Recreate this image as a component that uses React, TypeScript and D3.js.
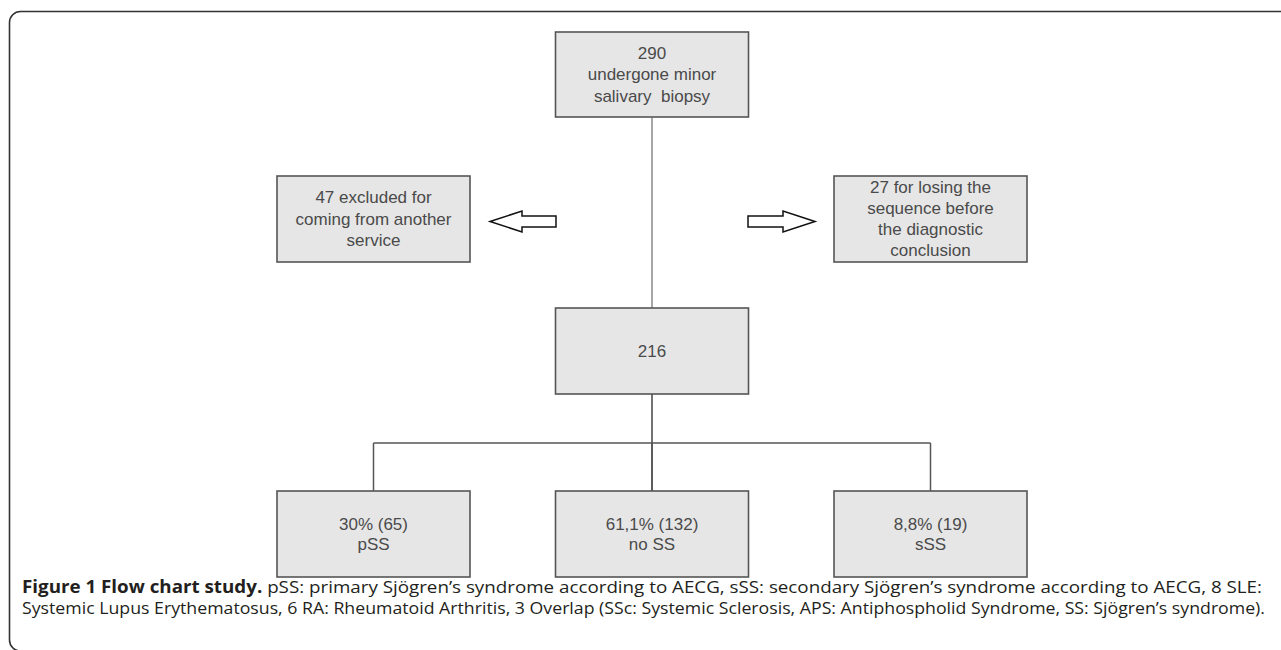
import React from "react";
import * as d3 from "d3";

// flow chart content
const columns = ["left", "center", "right"];
const levels = ["screened", "excluded", "included", "outcome"];
const screenedLines = ["290", "undergone minor", "salivary  biopsy"];
const excludedOtherService = ["47 excluded for", "coming from another", "service"];
const excludedLostSequence = ["27 for losing the", "sequence before", "the diagnostic", "conclusion"];
const includedLines = ["216"];
const outcomePct = ["30%", "61,1%", "8,8%"];
const outcomeCount = [65, 132, 19];
const outcomeGroup = ["pSS", "no SS", "sSS"];
const captionBold = "Figure 1 Flow chart study.";
const captionLine1 =
  " pSS: primary Sjögren’s syndrome according to AECG, sSS: secondary Sjögren’s syndrome according to AECG, 8 SLE:";
const captionLine2 =
  "Systemic Lupus Erythematosus, 6 RA: Rheumatoid Arthritis, 3 Overlap (SSc: Systemic Sclerosis, APS: Antiphospholid Syndrome, SS: Sjögren’s syndrome).";

const width = 1281;
const height = 650;
const boxW = 193;
const boxH = 86;

const x = d3.scalePoint<string>().domain(columns).range([373.5, 930.5]);
const y = d3.scaleOrdinal<string, number>().domain(levels).range([74.5, 219, 351, 534]);

type Node = { col: string; level: string; lines: string[]; lh: number };

const nodes: Node[] = [
  { col: "center", level: "screened", lines: screenedLines, lh: 21.5 },
  { col: "left", level: "excluded", lines: excludedOtherService, lh: 21.5 },
  { col: "right", level: "excluded", lines: excludedLostSequence, lh: 21 },
  { col: "center", level: "included", lines: includedLines, lh: 21 },
  ...columns.map((c, i) => ({
    col: c,
    level: "outcome",
    lines: [`${outcomePct[i]} (${outcomeCount[i]})`, outcomeGroup[i]],
    lh: 20,
  })),
];

const arrowPath = (tip: number, tail: number, cy: number) => {
  const dir = tail > tip ? 1 : -1;
  const base = tip + dir * 32;
  const pts: [number, number][] = [
    [tip, cy],
    [base, cy - 10.5],
    [base, cy - 5.5],
    [tail, cy - 5.5],
    [tail, cy + 5.5],
    [base, cy + 5.5],
    [base, cy + 10.5],
  ];
  return d3.line()(pts) + "Z";
};

const framePath = () => {
  const p = d3.path();
  const r = 11;
  p.moveTo(width, 11.5);
  p.lineTo(9.5 + r, 11.5);
  p.arcTo(9.5, 11.5, 9.5, 11.5 + r, r);
  p.lineTo(9.5, 640);
  p.arcTo(9.5, 651, 9.5 + r, 651, r);
  return p.toString();
};

export default function App() {
  const cx = x("center")!;
  const topBottom = y("screened") + boxH / 2;
  const midTop = y("included") - boxH / 2;
  const midBottom = y("included") + boxH / 2;
  const outTop = y("outcome") - boxH / 2;
  const branchY = 443;
  const arrowY = y("excluded") + 2.5;
  const leftTip = x("left")! + boxW / 2 + 20;
  const rightTip = x("right")! - boxW / 2 - 19;

  return (
    <svg
      width={width}
      height={height}
      style={{ position: "absolute", left: 0, top: 0, background: "#fff" }}
    >
      <path d={framePath()} fill="none" stroke="#333" strokeWidth={1.6} />

      {/* connectors */}
      <line x1={cx} x2={cx} y1={topBottom} y2={midTop} stroke="#8a8a8a" strokeWidth={1.5} />
      <line x1={cx} x2={cx} y1={midBottom} y2={outTop} stroke="#444" strokeWidth={1.5} />
      <line x1={x("left")} x2={x("right")} y1={branchY} y2={branchY} stroke="#555" strokeWidth={1.5} />
      {columns.map((c) => (
        <line key={c} x1={x(c)} x2={x(c)} y1={branchY} y2={outTop} stroke="#555" strokeWidth={1.5} />
      ))}

      {/* arrows */}
      <path d={arrowPath(leftTip, leftTip + 66, arrowY)} fill="#fff" stroke="#111" strokeWidth={1.5} />
      <path d={arrowPath(rightTip, rightTip - 67, arrowY)} fill="#fff" stroke="#111" strokeWidth={1.5} />

      {/* boxes */}
      {nodes.map((n, i) => {
        const bx = x(n.col)!;
        const by = y(n.level);
        const h = n.level === "screened" ? 85 : boxH;
        const first = by - ((n.lines.length - 1) * n.lh) / 2;
        return (
          <g key={i}>
            <rect
              x={bx - boxW / 2}
              y={by - h / 2}
              width={boxW}
              height={h}
              fill="#e6e6e6"
              stroke="#555"
              strokeWidth={1.6}
            />
            <text
              textAnchor="middle"
              fontFamily="'Liberation Sans', Arial, sans-serif"
              fontSize={17}
              fill="#4a4a4a"
              style={{ whiteSpace: "pre" }}
            >
              {n.lines.map((l, j) => (
                <tspan key={j} x={bx} y={first + j * n.lh} dy="0.35em">
                  {l}
                </tspan>
              ))}
            </text>
          </g>
        );
      })}

      {/* caption */}
      <g fontFamily="'Open Sans', 'Noto Sans', sans-serif" fontSize={17} fill="#231f20">
        <text x={22} y={593} textLength={1240} lengthAdjust="spacingAndGlyphs">
          <tspan fontWeight="bold">{captionBold}</tspan>
          <tspan>{captionLine1}</tspan>
        </text>
        <text x={22} y={614} textLength={1243} lengthAdjust="spacingAndGlyphs">
          {captionLine2}
        </text>
      </g>
    </svg>
  );
}
